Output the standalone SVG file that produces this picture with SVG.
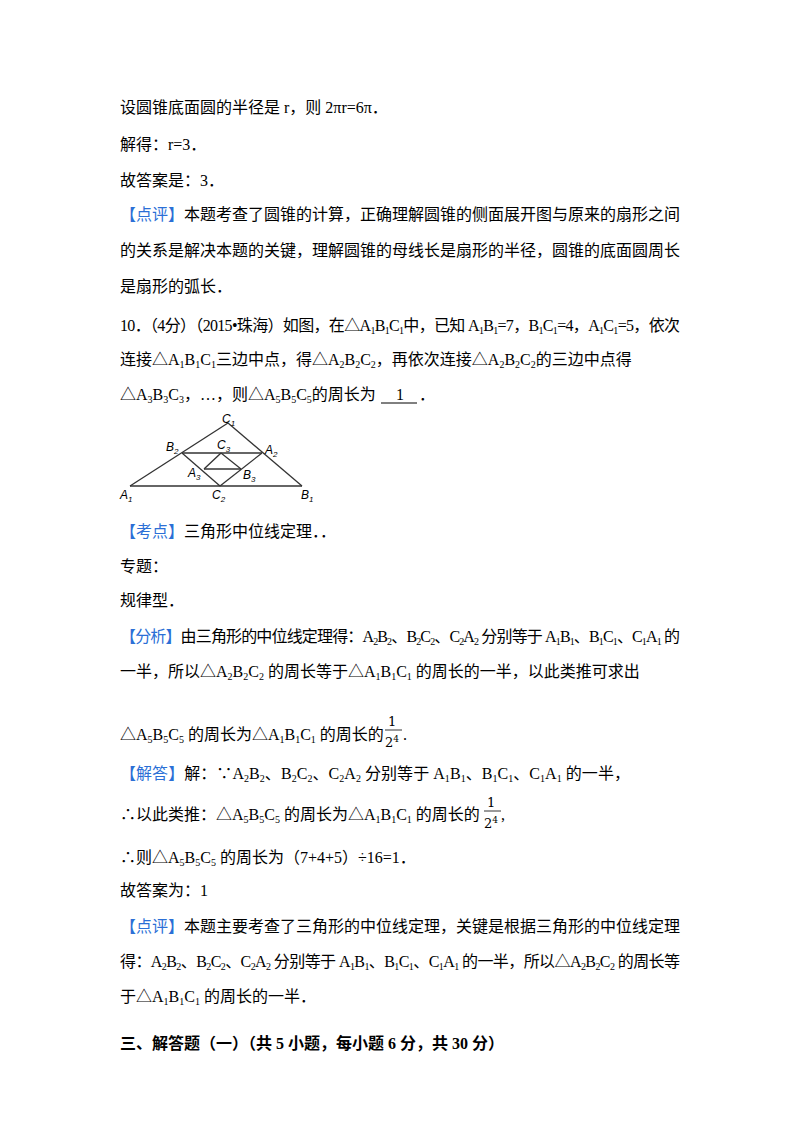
<svg xmlns="http://www.w3.org/2000/svg" width="800" height="1132" viewBox="0 0 800 1132">
<style>
text{font-family:"Liberation Serif","Noto Sans CJK SC",serif;font-size:16px;fill:#000}
.b{fill:#2b6fd6}
.s{font-size:10px;baseline-shift:-3px}
.f{font-family:"DejaVu Serif","Liberation Serif",serif;font-size:13px}
.h{font-weight:bold}
.fig line{stroke:#333;stroke-width:1.3}
.fig text{font-family:"Liberation Sans",Arial,sans-serif;font-style:italic;font-size:12px}
.fig .t{font-size:8px}
</style>
<rect width="800" height="1132" fill="#fff"/>
<text x="120" y="113">设圆锥底面圆的半径是 r，则 2πr=6π．</text>
<text x="120" y="150">解得：r=3．</text>
<text x="120" y="186">故答案是：3．</text>
<text x="120" y="220" textLength="560" lengthAdjust="spacing"><tspan class="b">【点评】</tspan>本题考查了圆锥的计算，正确理解圆锥的侧面展开图与原来的扇形之间</text>
<text x="120" y="256" textLength="560" lengthAdjust="spacing">的关系是解决本题的关键，理解圆锥的母线长是扇形的半径，圆锥的底面圆周长</text>
<text x="120" y="292">是扇形的弧长．</text>
<text x="120" y="331" textLength="560" lengthAdjust="spacing">10．（4分）（2015•珠海）如图，在△A<tspan class="s">1</tspan>B<tspan class="s">1</tspan>C<tspan class="s">1</tspan>中，已知 A<tspan class="s">1</tspan>B<tspan class="s">1</tspan>=7，B<tspan class="s">1</tspan>C<tspan class="s">1</tspan>=4，A<tspan class="s">1</tspan>C<tspan class="s">1</tspan>=5，依次</text>
<text x="120" y="365">连接△A<tspan class="s">1</tspan>B<tspan class="s">1</tspan>C<tspan class="s">1</tspan>三边中点，得△A<tspan class="s">2</tspan>B<tspan class="s">2</tspan>C<tspan class="s">2</tspan>，再依次连接△A<tspan class="s">2</tspan>B<tspan class="s">2</tspan>C<tspan class="s">2</tspan>的三边中点得</text>
<text x="120" y="400">△A<tspan class="s">3</tspan>B<tspan class="s">3</tspan>C<tspan class="s">3</tspan>，…，则△A<tspan class="s">5</tspan>B<tspan class="s">5</tspan>C<tspan class="s">5</tspan>的周长为</text>
<line x1="381" y1="403" x2="417" y2="403" stroke="#000" stroke-width="1"/>
<text x="396" y="400">1</text><text x="419" y="400">．</text>
<g class="fig" id="figure">
<line x1="130" y1="486" x2="302" y2="486"/>
<line x1="130" y1="486" x2="228" y2="423"/>
<line x1="302" y1="486" x2="228" y2="423"/>
<line x1="182" y1="453" x2="262" y2="453"/>
<line x1="182" y1="453" x2="220" y2="486"/>
<line x1="262" y1="453" x2="220" y2="486"/>
<line x1="204" y1="469" x2="241" y2="469"/>
<line x1="204" y1="469" x2="221" y2="453"/>
<line x1="241" y1="469" x2="221" y2="453"/>
<text x="222" y="423">C<tspan class="t" dy="3">1</tspan></text>
<text x="166" y="451">B<tspan class="t" dy="3">2</tspan></text>
<text x="265" y="454">A<tspan class="t" dy="3">2</tspan></text>
<text x="217" y="449">C<tspan class="t" dy="3">3</tspan></text>
<text x="188" y="477">A<tspan class="t" dy="3">3</tspan></text>
<text x="243" y="479">B<tspan class="t" dy="3">3</tspan></text>
<text x="120" y="499">A<tspan class="t" dy="3">1</tspan></text>
<text x="212" y="499">C<tspan class="t" dy="3">2</tspan></text>
<text x="301" y="499">B<tspan class="t" dy="3">1</tspan></text>
</g>
<text x="120" y="537"><tspan class="b">【考点】</tspan>三角形中位线定理．．</text>
<text x="120" y="572">专题：</text>
<text x="120" y="606">规律型．</text>
<text x="120" y="642" textLength="560" lengthAdjust="spacing"><tspan class="b">【分析】</tspan>由三角形的中位线定理得：A<tspan class="s">2</tspan>B<tspan class="s">2</tspan>、B<tspan class="s">2</tspan>C<tspan class="s">2</tspan>、C<tspan class="s">2</tspan>A<tspan class="s">2</tspan> 分别等于 A<tspan class="s">1</tspan>B<tspan class="s">1</tspan>、B<tspan class="s">1</tspan>C<tspan class="s">1</tspan>、C<tspan class="s">1</tspan>A<tspan class="s">1</tspan> 的</text>
<text x="120" y="677">一半，所以△A<tspan class="s">2</tspan>B<tspan class="s">2</tspan>C<tspan class="s">2</tspan> 的周长等于△A<tspan class="s">1</tspan>B<tspan class="s">1</tspan>C<tspan class="s">1</tspan> 的周长的一半，以此类推可求出</text>
<text x="120" y="740">△A<tspan class="s">5</tspan>B<tspan class="s">5</tspan>C<tspan class="s">5</tspan> 的周长为△A<tspan class="s">1</tspan>B<tspan class="s">1</tspan>C<tspan class="s">1</tspan> 的周长的</text>
<text class="f" x="388" y="726">1</text>
<line x1="385" y1="730" x2="402" y2="730" stroke="#000" stroke-width="0.8"/>
<text class="f" x="385" y="747">2<tspan font-size="9" dy="-5">4</tspan></text>
<text x="403" y="740">.</text>
<text x="120" y="779" textLength="510" lengthAdjust="spacing"><tspan class="b">【解答】</tspan>解：∵A<tspan class="s">2</tspan>B<tspan class="s">2</tspan>、B<tspan class="s">2</tspan>C<tspan class="s">2</tspan>、C<tspan class="s">2</tspan>A<tspan class="s">2</tspan> 分别等于 A<tspan class="s">1</tspan>B<tspan class="s">1</tspan>、B<tspan class="s">1</tspan>C<tspan class="s">1</tspan>、C<tspan class="s">1</tspan>A<tspan class="s">1</tspan> 的一半，</text>
<text x="120" y="820">∴以此类推：△A<tspan class="s">5</tspan>B<tspan class="s">5</tspan>C<tspan class="s">5</tspan> 的周长为△A<tspan class="s">1</tspan>B<tspan class="s">1</tspan>C<tspan class="s">1</tspan> 的周长的</text>
<text class="f" x="487" y="807">1</text>
<line x1="484" y1="811" x2="501" y2="811" stroke="#000" stroke-width="0.8"/>
<text class="f" x="484" y="828">2<tspan font-size="9" dy="-5">4</tspan></text>
<text x="501" y="820">,</text>
<text x="120" y="863">∴则△A<tspan class="s">5</tspan>B<tspan class="s">5</tspan>C<tspan class="s">5</tspan> 的周长为（7+4+5）÷16=1．</text>
<text x="120" y="896">故答案为：1</text>
<text x="120" y="932" textLength="560" lengthAdjust="spacing"><tspan class="b">【点评】</tspan>本题主要考查了三角形的中位线定理，关键是根据三角形的中位线定理</text>
<text x="120" y="967" textLength="560" lengthAdjust="spacing">得：A<tspan class="s">2</tspan>B<tspan class="s">2</tspan>、B<tspan class="s">2</tspan>C<tspan class="s">2</tspan>、C<tspan class="s">2</tspan>A<tspan class="s">2</tspan> 分别等于 A<tspan class="s">1</tspan>B<tspan class="s">1</tspan>、B<tspan class="s">1</tspan>C<tspan class="s">1</tspan>、C<tspan class="s">1</tspan>A<tspan class="s">1</tspan> 的一半，所以△A<tspan class="s">2</tspan>B<tspan class="s">2</tspan>C<tspan class="s">2</tspan> 的周长等</text>
<text x="120" y="1002">于△A<tspan class="s">1</tspan>B<tspan class="s">1</tspan>C<tspan class="s">1</tspan> 的周长的一半．</text>
<text class="h" x="120" y="1049">三、解答题（一）（共 5 小题，每小题 6 分，共 30 分）</text>
</svg>
